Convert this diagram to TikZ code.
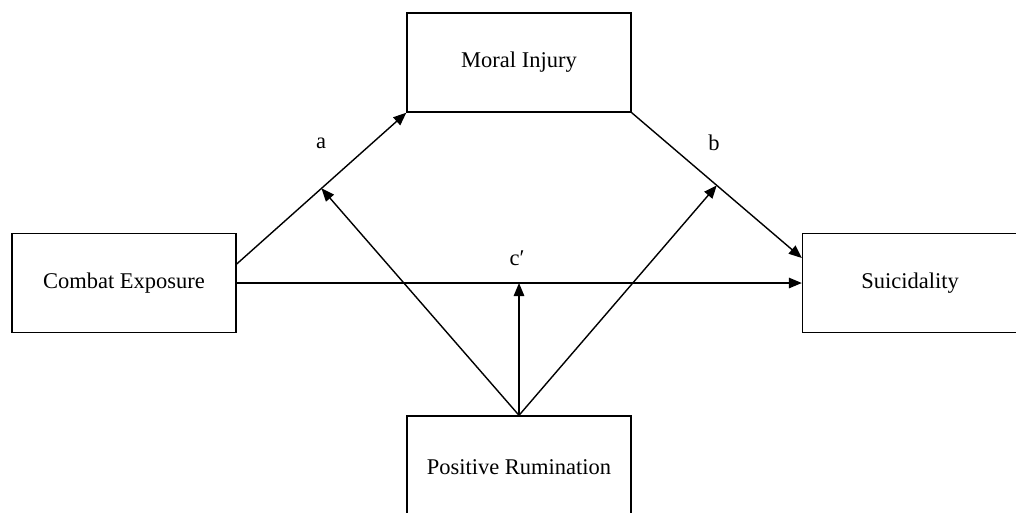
\documentclass[tikz,border=0pt]{standalone}
\usepackage{fontspec}
\setmainfont{Liberation Serif}
\usetikzlibrary{arrows.meta}

\begin{document}
\begin{tikzpicture}
  [x=0.02cm,y=-0.02cm,line width=0.8pt,
   every node/.style={font=\fontsize{12.8}{14}\selectfont},
   box/.style={draw,rectangle,minimum height=1.98cm},
   arr/.style={-{Triangle[length=0.26cm,width=0.21cm]}}]
  \useasboundingbox (0,0) rectangle (1016,512);
  \node[box,minimum width=4.48cm] (ce) at (124,283)   {Combat Exposure};
  \node[box,minimum width=4.48cm] (mi) at (519,62.5)  {Moral Injury};
  \node[box,minimum width=4.3cm] (su) at (910,283)   {Suicidality};
  \node[box,minimum width=4.48cm,minimum height=2.04cm] (pr) at (519,467) {Positive Rumination};
    \draw[arr] ([yshift=0.38cm]ce.east) -- (mi.south west) coordinate[pos=0.5] (ma);
    \draw[arr] (mi.south east) -- ([yshift=0.5cm]su.west) coordinate[pos=0.5] (mb);
    \draw[arr] (ce.east) -- (su.west);
    \foreach \to in {ma,mb}
    \draw[arr] (pr.north) -- (\to);
    \draw[arr] (pr.north) -- (pr.north |- ce.east);
  \node (la) at (321,143) {a};
  \node (lb) at (714,143) {b};
  \node (lc) at (517,258) {c′};
  \end{tikzpicture}
\end{document}
